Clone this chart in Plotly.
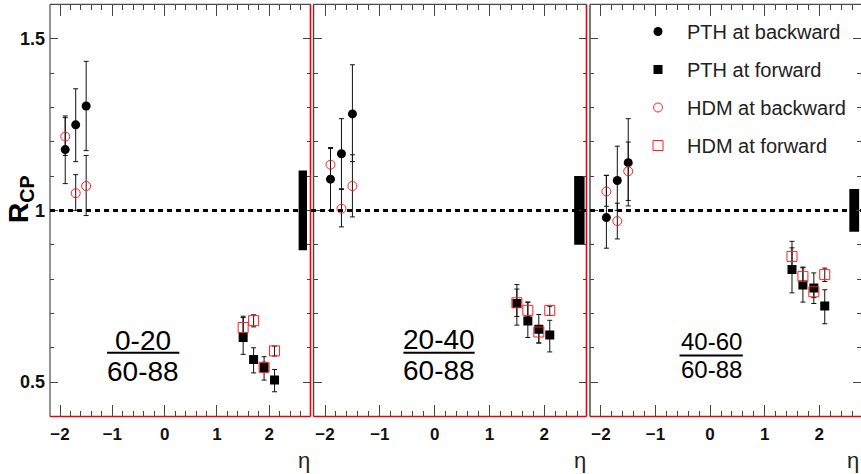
import plotly.graph_objects as go

# ---- data -------------------------------------------------------------
eta_backward = [-1.9, -1.7, -1.5]
eta_forward = [1.5, 1.7, 1.9, 2.1]

central_bins = ["0-20", "20-40", "40-60"]
peripheral_bin = "60-88"

# PTH, backward rapidity (per centrality panel)
pth_bw = [[1.177, 1.249, 1.304], [1.091, 1.165, 1.281], [0.979, 1.087, 1.139]]
pth_bw_up = [[0.098, 0.105, 0.130], [0.092, 0.102, 0.143], [0.123, 0.100, 0.128]]
pth_bw_dn = [[0.099, 0.107, 0.130], [0.091, 0.104, 0.139], [0.089, 0.087, 0.126]]

# PTH, forward rapidity
pth_fw = [[0.630, 0.566, 0.543, 0.506], [0.729, 0.678, 0.654, 0.637], [0.828, 0.783, 0.774, 0.722]]
pth_fw_up = [[0.062, 0.034, 0.031, 0.031], [0.055, 0.055, 0.043, 0.043], [0.082, 0.052, 0.044, 0.047]]
pth_fw_dn = [[0.049, 0.039, 0.037, 0.034], [0.063, 0.048, 0.040, 0.049], [0.068, 0.050, 0.045, 0.052]]

# HDM, backward rapidity
hdm_bw = [[1.215, 1.050, 1.071], [1.133, 1.005, 1.071], [1.055, 0.969, 1.114]]
hdm_bw_up = [[0.055, 0.054, 0.089], [0.047, 0.058, 0.091], [0.047, 0.052, 0.085]]
hdm_bw_dn = [[0.055, 0.050, 0.086], [0.047, 0.053, 0.090], [0.043, 0.052, 0.085]]

# HDM, forward rapidity
hdm_fw = [[0.659, 0.679, 0.543, 0.591], [0.731, 0.709, 0.646, 0.709], [0.866, 0.808, 0.763, 0.813]]
hdm_fw_up = [[0.029, 0.017, 0.015, 0.014], [0.040, 0.024, 0.015, 0.012], [0.025, 0.025, 0.020, 0.019]]
hdm_fw_dn = [[0.030, 0.018, 0.015, 0.015], [0.040, 0.017, 0.032, 0.015], [0.030, 0.025, 0.017, 0.020]]

# global (normalisation) uncertainty box around unity
global_unc = [0.116, 0.100, 0.062]
global_eta = 2.64

# ---- layout constants -------------------------------------------------
W, H = 861, 474
FONT = "Liberation Sans, Arial, sans-serif"
x_dom = [(50 / W, 310.5 / W), (313.5 / W, 586.5 / W), (590 / W, 1.0)]
x_rng = [(-2.191, 2.787), (-2.21, 2.77), (-2.20, 2.764)]
y_dom = (1 - 416.5 / H, 1 - 4.3 / H)
y_rng = (0.4, 1.6)
box_width = [0.16, 0.19, 0.18]

# fraction label placement per panel: (centre eta, numerator y, bar y, denominator y, bar half-width, font size)
frac_pos = [
    (-0.41, 0.6215, 0.5857, 0.5313, 0.69, 28),
    (0.08, 0.6230, 0.5857, 0.5340, 0.65, 28),
    (0.02, 0.6175, 0.5779, 0.5370, 0.58, 24),
]
eta_label_px = [304, 580, 853]

TICK = "#444"
FRAME = "#4a4a4a"
RED = "#e8000b"

fig = go.Figure()

series = [
    ("PTH at backward", eta_backward, pth_bw, pth_bw_up, pth_bw_dn,
     dict(symbol="circle", size=9, color="black")),
    ("PTH at forward", eta_forward, pth_fw, pth_fw_up, pth_fw_dn,
     dict(symbol="square", size=9, color="black")),
    ("HDM at backward", eta_backward, hdm_bw, hdm_bw_up, hdm_bw_dn,
     dict(symbol="circle-open", size=9, color="#ff2020", line=dict(width=1))),
    ("HDM at forward", eta_forward, hdm_fw, hdm_fw_up, hdm_fw_dn,
     dict(symbol="square-open", size=10, color="#ff2020", line=dict(width=1))),
]

for p in range(3):
    xa = "x" if p == 0 else f"x{p + 1}"
    ya = "y" if p == 0 else f"y{p + 1}"
    unc = global_unc[p]
    fig.add_trace(go.Bar(
        x=[global_eta], y=[2 * unc], base=[1 - unc], width=box_width[p],
        marker=dict(color="black", line=dict(width=0)),
        xaxis=xa, yaxis=ya, showlegend=False, hoverinfo="skip"))
    for rank, (name, xs, vals, up, dn, mk) in enumerate(series):
        fig.add_trace(go.Scatter(
            x=xs, y=vals[p], mode="markers", name=name,
            legendgroup=name, legendrank=rank + 1, showlegend=(p == 0),
            marker=mk,
            error_y=dict(type="data", symmetric=False, array=up[p], arrayminus=dn[p],
                         color="#111", thickness=1, width=2.5),
            xaxis=xa, yaxis=ya))

axis_common = dict(showgrid=False, zeroline=False, showline=False)
for p in range(3):
    sfx = "" if p == 0 else str(p + 1)
    fig.update_layout({
        f"xaxis{sfx}": dict(
            axis_common, domain=list(x_dom[p]), range=list(x_rng[p]),
            anchor=f"y{sfx}", tickmode="linear", tick0=0, dtick=1,
            ticks="inside", ticklen=12, tickwidth=1, tickcolor=TICK, mirror="ticks",
            minor=dict(ticks="inside", ticklen=6, tickwidth=1, tickcolor=TICK, dtick=0.2, tick0=0),
            tickfont=dict(family=FONT, size=17, color="#111", weight="bold"),
            ticklabelstandoff=5),
        f"yaxis{sfx}": dict(
            axis_common, domain=list(y_dom), range=list(y_rng),
            anchor=f"x{sfx}", tickmode="array", tickvals=[0.5, 1.0, 1.5],
            ticktext=["0.5", "1", "1.5"], showticklabels=(p == 0),
            ticks="inside", ticklen=8, tickwidth=1, tickcolor=TICK, mirror="ticks",
            minor=dict(ticks="inside", ticklen=4, tickwidth=1, tickcolor=TICK, dtick=0.1, tick0=0),
            tickfont=dict(family=FONT, size=18, color="#111", weight="bold"),
            ticklabelstandoff=4),
    })

shapes = []
for p in range(3):
    sfx = "" if p == 0 else str(p + 1)
    xd, yd = f"x{sfx} domain", f"y{sfx} domain"
    # dark left/top frame, red right/bottom frame
    shapes.append(dict(type="line", xref=xd, yref=yd, x0=0, x1=0, y0=0, y1=1,
                       line=dict(color=FRAME, width=1.5 if p else 1.2)))
    shapes.append(dict(type="line", xref=xd, yref=yd, x0=0, x1=1, y0=1, y1=1,
                       line=dict(color=FRAME, width=1.2)))
    shapes.append(dict(type="line", xref=xd, yref=yd, x0=0, x1=1, y0=0, y1=0,
                       line=dict(color=RED, width=1.6)))
    if p < 2:
        shapes.append(dict(type="line", xref=xd, yref=yd, x0=1, x1=1, y0=0, y1=1,
                           line=dict(color=RED, width=1.6)))
    # fraction bar
    cx, ny, by, dy, hw, fs = frac_pos[p]
    shapes.append(dict(type="line", xref=f"x{sfx}", yref=f"y{sfx}",
                       x0=cx - hw, x1=cx + hw, y0=by, y1=by,
                       line=dict(color="black", width=2)))

# unity reference line running across all panels
shapes.append(dict(type="line", xref="paper", yref="y", x0=x_dom[0][0], x1=1, y0=1, y1=1,
                   line=dict(color="black", width=3, dash="5px,4px")))

annotations = []
for p in range(3):
    sfx = "" if p == 0 else str(p + 1)
    cx, ny, by, dy, hw, fs = frac_pos[p]
    for txt, yy in ((central_bins[p], ny), (peripheral_bin, dy)):
        annotations.append(dict(text=txt, xref=f"x{sfx}", yref=f"y{sfx}", x=cx, y=yy,
                                showarrow=False, xanchor="center", yanchor="middle",
                                font=dict(family=FONT, size=fs, color="black")))
    annotations.append(dict(text="η", xref="paper", yref="paper",
                            x=eta_label_px[p] / W, y=1 - 460 / H,
                            showarrow=False, xanchor="center", yanchor="middle",
                            font=dict(family=FONT, size=22, color="#222")))

annotations.append(dict(text="<b>R<sub>CP</sub></b>", xref="paper", yref="paper",
                        x=21 / W, y=1 - 200 / H, textangle=-90, showarrow=False,
                        xanchor="center", yanchor="middle",
                        font=dict(family=FONT, size=28, color="black")))

fig.update_layout(
    width=W, height=H,
    margin=dict(l=0, r=0, t=0, b=0),
    paper_bgcolor="white", plot_bgcolor="white",
    font=dict(family=FONT, color="#222"),
    barmode="overlay",
    shapes=shapes, annotations=annotations,
    legend=dict(x=(687 - 58) / W, y=1 - 12 / H, xanchor="left", yanchor="top",
                font=dict(family=FONT, size=20, color="#222"),
                itemwidth=48, tracegroupgap=9, traceorder="grouped",
                bgcolor="rgba(0,0,0,0)", borderwidth=0),
)

fig.write_html("out.html")
